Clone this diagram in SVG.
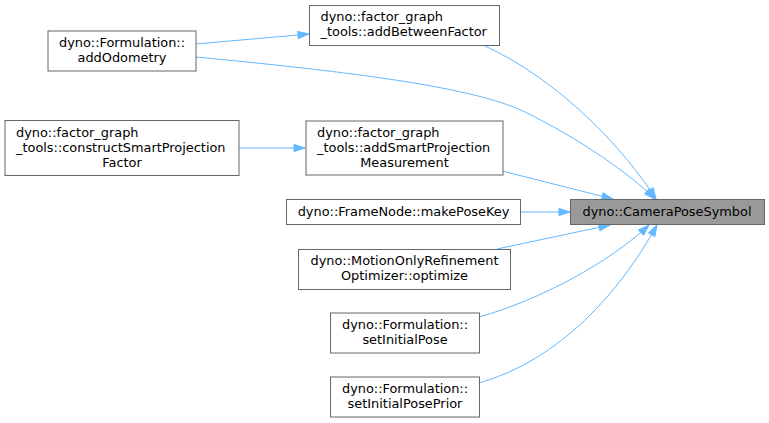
<svg xmlns="http://www.w3.org/2000/svg" width="769" height="423" viewBox="0 0 769 423">
<style>
.n rect{fill:#ffffff;stroke:#666666;stroke-width:1}
.n.hl rect{fill:#999999}
text{font-family:"DejaVu Sans","Liberation Sans",sans-serif;font-size:12.9px;fill:#000000}
.m{text-anchor:middle}
.e path{fill:none;stroke:#63b8ff;stroke-width:1;marker-end:url(#ah)}
</style>
<defs>
<marker id="ah" markerUnits="userSpaceOnUse" markerWidth="14" markerHeight="10" viewBox="-1 -5 14 10" refX="11" refY="0" orient="auto">
<path d="M0,-3.6 L11,0 L0,3.6 Z" fill="#63b8ff" stroke="#63b8ff" stroke-width="1"/>
</marker>
</defs>
<g id="edges" class="e">
<path d="M196,44 L309,34"/>
<path d="M196,57 C330,70 470,85 525,112 C580,139 630,174 655,199"/>
<path d="M483,45 C560,80 625,150 656,199"/>
<path d="M502,171 L613,199"/>
<path d="M239,148 L305,148"/>
<path d="M521,212 L570,212"/>
<path d="M497,249 L610,225"/>
<path d="M479,317 C540,300 610,262 649,225"/>
<path d="M479,383 C560,360 620,292 657,225"/>
</g>
<g id="n_camera" class="n hl"><rect x="570.5" y="199.5" width="194" height="25"/><text class="m" x="667" y="216">dyno::CameraPoseSymbol</text></g>
<g id="n_addBetween" class="n"><rect x="309.5" y="5.5" width="190" height="40"/><text x="320.5" y="21">dyno::factor_graph</text><text x="320.5" y="36">_tools::addBetweenFactor</text></g>
<g id="n_addOdometry" class="n"><rect x="48" y="31" width="148" height="40"/><text class="m" x="122" y="47">dyno::Formulation::</text><text class="m" x="122" y="62">addOdometry</text></g>
<g id="n_construct" class="n"><rect x="5" y="120.5" width="234" height="55"/><text x="16" y="136.5">dyno::factor_graph</text><text x="16" y="151.5">_tools::constructSmartProjection</text><text class="m" x="122" y="166.5">Factor</text></g>
<g id="n_addSmart" class="n"><rect x="306" y="121" width="197" height="54"/><text x="317" y="137">dyno::factor_graph</text><text x="317" y="152">_tools::addSmartProjection</text><text class="m" x="404.5" y="167">Measurement</text></g>
<g id="n_makePoseKey" class="n"><rect x="286.5" y="199.5" width="234" height="25"/><text class="m" x="403.5" y="216">dyno::FrameNode::makePoseKey</text></g>
<g id="n_optimize" class="n"><rect x="298.5" y="249.5" width="212" height="40"/><text class="m" x="404.5" y="265">dyno::MotionOnlyRefinement</text><text class="m" x="404.5" y="280">Optimizer::optimize</text></g>
<g id="n_setInitialPose" class="n"><rect x="330.5" y="313" width="149" height="40"/><text class="m" x="405" y="329">dyno::Formulation::</text><text class="m" x="405" y="344">setInitialPose</text></g>
<g id="n_setInitialPosePrior" class="n"><rect x="330.5" y="377" width="149" height="40"/><text class="m" x="405" y="393">dyno::Formulation::</text><text class="m" x="405" y="408">setInitialPosePrior</text></g>
</svg>
